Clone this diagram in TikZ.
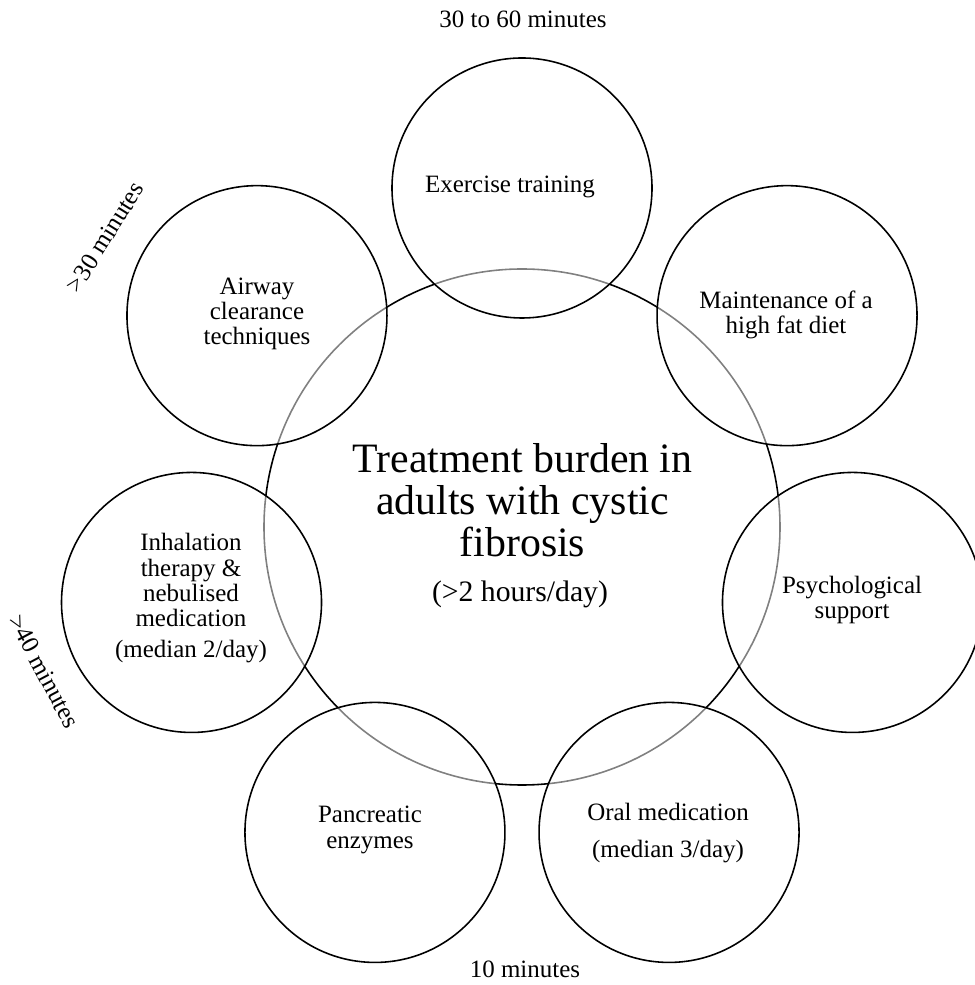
\documentclass[tikz,border=0pt]{standalone}
\usepackage{fontspec}
\setmainfont{Liberation Serif}

\tikzset{
  burden/.style={circle, draw, line width=0.9pt, minimum size=10.32cm, inner sep=0pt},
  task/.style={circle, draw, line width=0.9pt, fill=white, fill opacity=0.5, minimum size=5.2cm, inner sep=0pt},
  tasktext/.style={align=center, font=\fontsize{14.2}{14.4}\selectfont},
  timenote/.style={font=\fontsize{14.2}{17}\selectfont},
}

\begin{document}
\begin{tikzpicture}
                   
                        \useasboundingbox (-10.44,-9.16) rectangle (9.04,10.54);

                        \node[burden] (burden) at (0,0) {};

                        \node[task] (exercise) at (90:6.78) {};
                        \node[task] (airway) at (141.43:6.78) {};
                        \node[task] (inhalation) at (192.86:6.78) {};
                        \node[task] (pancreatic) at (244.29:6.78) {};
                        \node[task] (oral) at (295.71:6.78) {};
                        \node[task] (psych) at (347.14:6.78) {};
                        \node[task] (diet) at (38.57:6.78) {};

                        \node[align=center, font=\fontsize{23.8}{23.9}\selectfont] (burden-text) at (0.01,0.53) {Treatment burden in\\adults with cystic\\fibrosis};
                        \node[anchor=base, font=\fontsize{16.9}{19}\selectfont] (burden-time) at (-0.04,-1.5) {(>2 hours/day)};

                        \node[tasktext] (exercise-text) at (-0.24,6.80) {Exercise training};
                        \node[tasktext] (airway-text) at (-5.30,4.26) {Airway\\clearance\\techniques};
                        \node[tasktext] (inhalation-text) at (-6.62,-1.42) {Inhalation\\therapy \&\\nebulised\\medication\\[3pt](median 2/day)};
                        \node[tasktext] (pancreatic-text) at (-3.04,-6.06) {Pancreatic\\enzymes};
                        \node[tasktext] (oral-text) at (2.92,-6.12) {Oral medication\\[7pt](median 3/day)};
                        \node[tasktext] (psych-text) at (6.60,-1.46) {Psychological\\support};
                        \node[tasktext] (diet-text) at (5.28,4.24) {Maintenance of a\\high fat diet};

                        \node[timenote, anchor=base] (top-time) at (0.02,9.98) {30 to 60 minutes};
                        \node[timenote, anchor=base] (bottom-time) at (0.06,-9.0) {10 minutes};
                        \node[timenote, rotate=58] (airway-time) at (-8.34,5.80) {>30 minutes};
                        \node[timenote, rotate=-62] (inhalation-time) at (-9.56,-2.89) {>40 minutes};
                           
                      \end{tikzpicture}
\end{document}
